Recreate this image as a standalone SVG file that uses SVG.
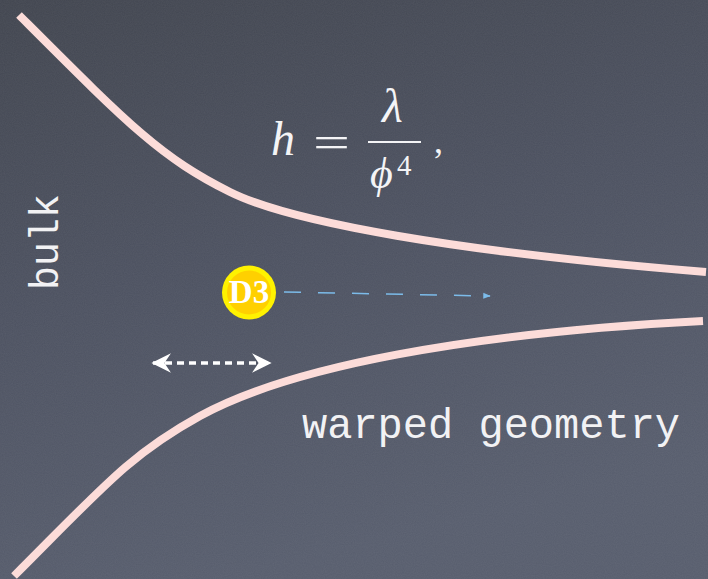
<svg xmlns="http://www.w3.org/2000/svg" width="708" height="579" viewBox="0 0 708 579">
<defs>
<linearGradient id="bg" x1="0" y1="0" x2="0.3" y2="1">
<stop offset="0" stop-color="#41454f"/>
<stop offset="0.5" stop-color="#4c5160"/>
<stop offset="1" stop-color="#575d6d"/>
</linearGradient>
<filter id="noise" x="0" y="0" width="100%" height="100%">
<feTurbulence type="fractalNoise" baseFrequency="0.9" numOctaves="2" seed="3"/>
<feColorMatrix type="matrix" values="0 0 0 0 1  0 0 0 0 1  0 0 0 0 1  0 0 0 0.06 0"/>
</filter>
<marker id="blueHead" viewBox="0 0 10 10" refX="9" refY="5" markerWidth="5" markerHeight="5" orient="auto" markerUnits="strokeWidth">
<path d="M0,1 L10,5 L0,9 Z" fill="#7cbbe9"/>
</marker>
<marker id="whiteHead" viewBox="0 0 12 12" refX="11" refY="6" markerWidth="5.6" markerHeight="5.6" orient="auto-start-reverse" markerUnits="strokeWidth">
<path d="M0,0 L12,6 L0,12 L4,6 Z" fill="#ffffff"/>
</marker>
</defs>
<style>
.wall{fill:none;stroke:#fcdcd9;stroke-width:8;stroke-linecap:butt}
.mono{font-family:"Liberation Mono","Courier New",monospace;fill:#f2f2f4}
.math{font-family:"Liberation Serif","DejaVu Serif",serif;fill:#f4f4f6}
</style>
<rect x="0" y="0" width="708" height="579" fill="url(#bg)"/>
<rect x="0" y="0" width="708" height="579" filter="url(#noise)"/>

<g id="connectors">
<path class="wall" id="upper-wall" d="M19,15 C129,125 160,157 230,192 C290,222 456,252 706,272"/>
<path class="wall" id="lower-wall" d="M14,576 C104,486 130,454.5 200,416 C290,366.5 470,333 703,321"/>
<line id="d3-arrow" x1="284" y1="292" x2="490" y2="296" stroke="#7cbbe9" stroke-width="1.5" stroke-dasharray="17,17" marker-end="url(#blueHead)"/>
<line id="width-arrow" x1="153" y1="363" x2="270" y2="363" stroke="#ffffff" stroke-width="3.5" stroke-dasharray="7,5" marker-start="url(#whiteHead)" marker-end="url(#whiteHead)"/>
</g>

<g id="formula">
<text class="math" x="271" y="155" font-size="48" font-style="italic">h</text>
<text class="math" x="313" y="157" font-size="44" textLength="37" lengthAdjust="spacingAndGlyphs">=</text>
<text class="math" x="382" y="122" font-size="48" font-style="italic">λ</text>
<line x1="368" y1="142" x2="421" y2="142" stroke="#f4f4f6" stroke-width="2"/>
<text class="math" x="370" y="188" font-size="44" font-style="italic">ϕ</text>
<text class="math" x="397" y="175" font-size="29">4</text>
<text class="math" x="434" y="153" font-size="36">,</text>
</g>

<g id="bulk">
<text class="mono" x="0" y="0" font-size="40" transform="translate(58,290) rotate(-90)">bulk</text>
</g>

<g id="warped">
<text class="mono" x="302" y="438" font-size="42">warped geometry</text>
</g>

<g id="d3">
<circle cx="249" cy="292.5" r="27" fill="#fff200"/>
<circle cx="249" cy="292.5" r="22" fill="#ffd000"/>
<text x="249" y="303" font-family="Liberation Serif,serif" font-weight="bold" font-size="33" fill="#ffffff" text-anchor="middle">D3</text>
</g>
</svg>
